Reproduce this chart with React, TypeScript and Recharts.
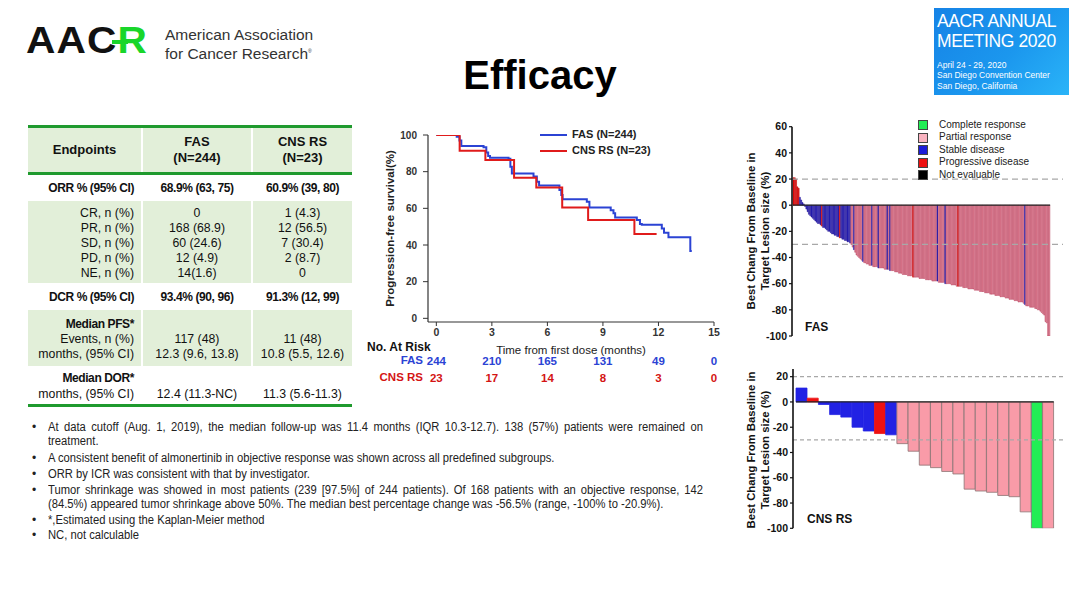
import React from 'react';
import { LineChart, Line, BarChart, Bar, Cell, XAxis, YAxis, ReferenceLine } from 'recharts';

const ARIAL = '"Liberation Sans", Arial, Helvetica, sans-serif';

// Kaplan-Meier PFS (months, % progression-free)
const fasTime = [0, 1.1, 1.25, 1.35, 2.55, 2.7, 2.8, 2.9, 3.9, 4.0, 4.08, 5.25, 5.43, 5.55, 6.65, 6.75, 6.82, 8.13, 8.27, 9.42, 9.57, 9.66, 10.83, 11.0, 11.1, 12.18, 12.3, 12.54, 13.72, 13.8];
const fasPfs = [100, 99, 97, 94, 93.3, 90.5, 88.5, 87.6, 87, 82.7, 79, 77.3, 74.5, 72.5, 70, 67.3, 65, 63.6, 60.5, 59, 57.3, 55, 53.6, 51.5, 51, 49, 46.7, 44.2, 36.7, 36.7];
const cnsTime = [0, 1.26, 2.65, 4.2, 5.4, 6.8, 8.2, 10.7, 11.9];
const cnsPfs = [100, 91.4, 86.4, 76.7, 71.3, 60.4, 53.6, 46, 46];
const monthTicks = [0, 3, 6, 9, 12, 15];
const fasAtRisk = [244, 210, 165, 131, 49, 0];
const cnsAtRisk = [23, 17, 14, 8, 3, 0];
const pfsTicks = [0, 20, 40, 60, 80, 100];

// waterfall: best % change from baseline, FAS
const fasChange = [
  21, 21, 20, 14, 13, 6, 4, 2, 1, -1,
  -3, -5, -7, -8, -9, -10, -11, -12, -13, -14,
  -14, -15, -16, -17, -17, -18, -19, -20, -20, -21,
  -22, -22, -23, -23, -24, -24, -25, -25, -26, -26,
  -27, -27, -28, -28, -29, -30, -32, -34, -36, -38,
  -39, -40, -41, -42, -43, -44, -44, -45, -45, -46,
  -46, -46, -47, -47, -47, -47, -48, -48, -48, -48,
  -48, -49, -49, -49, -49, -50, -50, -50, -50, -51,
  -51, -51, -52, -52, -52, -53, -53, -53, -53, -54,
  -54, -54, -54, -55, -55, -55, -55, -55, -56, -56,
  -56, -56, -56, -57, -57, -57, -57, -57, -58, -58,
  -58, -58, -58, -59, -59, -59, -59, -59, -60, -60,
  -60, -60, -60, -61, -61, -61, -61, -62, -62, -62,
  -62, -62, -63, -63, -63, -63, -64, -64, -64, -64,
  -64, -65, -65, -65, -65, -66, -66, -66, -66, -67,
  -67, -67, -67, -68, -68, -68, -68, -69, -69, -69,
  -69, -70, -70, -70, -70, -71, -71, -71, -72, -72,
  -72, -72, -73, -73, -73, -74, -74, -74, -74, -75,
  -76, -77, -77, -77, -78, -78, -78, -78, -79, -79,
  -80, -80, -81, -82, -83, -84, -89, -90, -100, -100,
];
// C complete, P partial, S stable, D progressive
const fasResponse = [
  'DDDDDSSSSS', 'SSSSSSSSSS', 'SSDSSSSSSS', 'SSSSSSDSSS', 'SSSSSPPSPP',
  'PPPPSPPPPP', 'PSPPPPSPPP', 'PPPSPSPPPP', 'PPPPPPPPPP', 'PPPDPPPPPP',
  'PPPPPPPPPP', 'PPSPPPPPSP', 'PPPPPPPPDP', 'PPPPPPPPPP', 'PPPPPPPPPP',
  'PPPPPPPPPP', 'PPPPPPPPPP', 'PPPPPPPPPP', 'SPPPPPPPPP', 'PPPPPPPPPP',
].join('');
const fasTail = ['t0', 't1', 't2', 't3', 't4', 't5', 't6', 't7', 't8', 't9'];

// waterfall, CNS RS
const cnsChange = [11, 3, -2, -10, -12, -20, -23, -25, -26, -33, -39, -50, -52, -55, -57, -69, -70.5, -71.5, -74, -75, -87, -100, -100];
const cnsResponse = 'SDSSSSSDSPPPPPPPPPPPPCP';

const fasTicks = [60, 40, 20, 0, -20, -40, -60, -80, -100];
const cnsTicks = [20, 0, -20, -40, -60, -80, -100];

const fasColors: Record<string, [string, string]> = {
  C: ['#22ee55', '#555'],
  P: ['#f6abba', '#b23552'],
  S: ['#2020c8', '#2a1890'],
  D: ['#e81010', '#c00000'],
};
const cnsColors: Record<string, [string, string]> = {
  C: ['#22ee55', '#777'],
  P: ['#f99ba8', '#8c7474'],
  S: ['#2222e4', '#2222e4'],
  D: ['#ee1111', '#ee1111'],
};

const fasBars = [
  ...fasChange.map((v, i) => ({ id: 'f' + i, v, r: fasResponse[i] })),
  ...fasTail.map((id) => ({ id, v: null as number | null, r: '' })),
];
const cnsBars = [
  ...cnsChange.map((v, i) => ({ id: 'c' + i, v, r: cnsResponse[i] })),
  { id: 'end', v: null as number | null, r: '' },
];

const Txt = ({ x, y, w, align = 'left', size = 12, bold = false, color = '#111', style = {}, children }: any) => (
  <div
    style={{
      position: 'absolute',
      left: x,
      top: y - size * 0.6,
      width: w,
      textAlign: align,
      fontSize: size,
      lineHeight: `${size * 1.2}px`,
      fontWeight: bold ? 700 : 400,
      color,
      fontFamily: ARIAL,
      whiteSpace: 'nowrap',
      ...style,
    }}
  >
    {children}
  </div>
);

const VText = ({ x, y, size, children }: any) => (
  <div
    style={{
      position: 'absolute',
      left: x,
      top: y,
      transform: 'translate(-50%, -50%) rotate(-90deg)',
      fontSize: size,
      fontWeight: 700,
      fontFamily: ARIAL,
      color: '#111',
      whiteSpace: 'nowrap',
      lineHeight: 1,
    }}
  >
    {children}
  </div>
);

const TABLE_BG = '#e2efd9';
const TABLE_LINE = '#1f9a2e';

const GreenBand = ({ top, height }: { top: number; height: number }) => (
  <>
    <div style={{ position: 'absolute', left: 28, top, width: 113, height, background: TABLE_BG }} />
    <div style={{ position: 'absolute', left: 143, top, width: 108, height, background: TABLE_BG }} />
    <div style={{ position: 'absolute', left: 253, top, width: 99, height, background: TABLE_BG }} />
  </>
);
const HLine = ({ top }: { top: number }) => (
  <div style={{ position: 'absolute', left: 28, top, width: 324, height: 3, background: TABLE_LINE }} />
);

const TRow = ({ y, label, a, b, bold = false }: any) => {
  const size = bold ? 12 : 12.3;
  const ls = bold ? -0.4 : 0;
  return (
    <>
      {label && <Txt x={28} w={106} y={y} align="right" size={size} bold={bold} style={{ letterSpacing: ls }}>{label}</Txt>}
      {a && <Txt x={143} w={108} y={y} align="center" size={size} bold={bold} style={{ letterSpacing: ls }}>{a}</Txt>}
      {b && <Txt x={253} w={99} y={y} align="center" size={size} bold={bold} style={{ letterSpacing: ls }}>{b}</Txt>}
    </>
  );
};

const EfficacyTable = () => (
  <>
    <GreenBand top={128} height={44} />
    <GreenBand top={201} height={82} />
    <GreenBand top={310} height={56} />
    <HLine top={125} />
    <HLine top={172} />
    <HLine top={404} />
    <Txt x={28} w={113} y={150} align="center" size={13} bold>Endpoints</Txt>
    <Txt x={143} w={108} y={142} align="center" size={13} bold>FAS</Txt>
    <Txt x={143} w={108} y={158} align="center" size={13} bold>(N=244)</Txt>
    <Txt x={253} w={99} y={142} align="center" size={13} bold>CNS RS</Txt>
    <Txt x={253} w={99} y={158} align="center" size={13} bold>(N=23)</Txt>
    <TRow y={188} label="ORR % (95% CI)" a="68.9% (63, 75)" b="60.9% (39, 80)" bold />
    <TRow y={213} label="CR, n (%)" a="0" b="1 (4.3)" />
    <TRow y={228} label="PR, n (%)" a="168 (68.9)" b="12 (56.5)" />
    <TRow y={243} label="SD, n (%)" a="60 (24.6)" b="7 (30.4)" />
    <TRow y={258} label="PD, n (%)" a="12 (4.9)" b="2 (8.7)" />
    <TRow y={273} label="NE, n (%)" a="14(1.6)" b="0" />
    <TRow y={297} label="DCR % (95% CI)" a="93.4% (90, 96)" b="91.3% (12, 99)" bold />
    <TRow y={324} label="Median PFS*" bold />
    <TRow y={339} label="Events, n (%)" a="117  (48)" b="11 (48)" />
    <TRow y={354} label="months, (95% CI)" a="12.3 (9.6, 13.8)" b="10.8 (5.5, 12.6)" />
    <TRow y={378} label="Median DOR*" bold />
    <TRow y={394} label="months, (95% CI)" a="12.4 (11.3-NC)" b="11.3 (5.6-11.3)" />
  </>
);

const fasKm = fasTime.map((t, i) => ({ t, s: fasPfs[i] }));
const cnsKm = cnsTime.map((t, i) => ({ t, s: cnsPfs[i] }));
const KM_BLUE = '#2b43d4';
const KM_RED = '#e01b1b';

// bottom axes are stacked in id order: a (time) next to the plot, then b (FAS at risk), then c (CNS RS at risk)
const PfsChart = () => (
  <div style={{ position: 'absolute', left: 360, top: 125 }}>
    <LineChart width={370} height={262} margin={{ top: 10, right: 16, bottom: 0, left: 0 }}>
      <XAxis
        xAxisId="a-time"
        type="number"
        dataKey="t"
        domain={[-0.45, 15]}
        allowDataOverflow
        ticks={monthTicks}
        height={32}
        tickSize={4}
        tickMargin={3}
        axisLine={{ stroke: '#333', strokeWidth: 1.2 }}
        tickLine={{ stroke: '#333' }}
        tick={{ fontSize: 10.5, fontWeight: 700, fill: '#333', fontFamily: ARIAL }}
        label={{ value: 'Time from first dose (months)', position: 'insideBottom', offset: 0, style: { fontSize: 11.5, fill: '#222', fontFamily: ARIAL } }}
      />
      <XAxis
        xAxisId="b-fas"
        type="number"
        dataKey="t"
        domain={[-0.45, 15]}
        allowDataOverflow
        ticks={monthTicks}
        height={17}
        tickSize={0}
        tickMargin={3}
        axisLine={false}
        tickLine={false}
        tickFormatter={(v: number) => String(fasAtRisk[monthTicks.indexOf(v)])}
        tick={{ fontSize: 11.5, fontWeight: 700, fill: KM_BLUE, fontFamily: ARIAL }}
      />
      <XAxis
        xAxisId="c-cns"
        type="number"
        dataKey="t"
        domain={[-0.45, 15]}
        allowDataOverflow
        ticks={monthTicks}
        height={16}
        tickSize={0}
        tickMargin={3}
        axisLine={false}
        tickLine={false}
        tickFormatter={(v: number) => String(cnsAtRisk[monthTicks.indexOf(v)])}
        tick={{ fontSize: 11.5, fontWeight: 700, fill: '#d41414', fontFamily: ARIAL }}
      />
      <YAxis
        type="number"
        domain={[-2, 100]}
        allowDataOverflow
        ticks={pfsTicks}
        width={68}
        tickSize={5}
        tickMargin={6}
        axisLine={{ stroke: '#333', strokeWidth: 1.2 }}
        tickLine={{ stroke: '#333' }}
        tick={{ fontSize: 10, fontWeight: 700, fill: '#333', fontFamily: ARIAL }}
        label={{ value: 'Progression-free survival(%)', angle: -90, position: 'insideLeft', offset: 30, style: { textAnchor: 'middle', fontSize: 11.5, fontWeight: 700, fill: '#222', fontFamily: ARIAL } }}
      />
      <Line xAxisId="a-time" data={fasKm} dataKey="s" type="stepAfter" stroke={KM_BLUE} strokeWidth={2} dot={false} isAnimationActive={false} />
      <Line xAxisId="a-time" data={cnsKm} dataKey="s" type="stepAfter" stroke={KM_RED} strokeWidth={2} dot={false} isAnimationActive={false} />
    </LineChart>
  </div>
);

const Waterfall = ({ data, colors, ticks, domain, tickFirst, tickLast, left, top, width, height, margin, padLeft, dash }: any) => (
  <div style={{ position: 'absolute', left, top }}>
    <BarChart width={width} height={height} data={data} margin={margin} barCategoryGap={0}>
      <XAxis dataKey="id" hide padding={{ left: padLeft, right: 0 }} />
      <YAxis
        type="number"
        domain={domain}
        allowDataOverflow
        ticks={ticks}
        interval={0}
        width={margin.yw}
        tickSize={3}
        tickMargin={2}
        axisLine={{ stroke: '#111', strokeWidth: 1.6 }}
        tickLine={{ stroke: '#111', strokeWidth: 1.2 }}
        tick={{ fontSize: 10.5, fontWeight: 700, fill: '#111', fontFamily: ARIAL }}
      />
      <ReferenceLine y={20} stroke="#a8a8a8" strokeWidth={1.2} strokeDasharray={dash} />
      <ReferenceLine y={-30} stroke="#a8a8a8" strokeWidth={1.2} strokeDasharray={dash} />
      <Bar dataKey="v" isAnimationActive={false}>
        {data.map((d: any) => (
          <Cell
            key={d.id}
            fill={d.r ? colors[d.r][0] : 'none'}
            stroke={d.r ? colors[d.r][1] : 'none'}
            strokeWidth={margin.sw}
          />
        ))}
      </Bar>
      <ReferenceLine
        segment={[{ x: tickFirst, y: 0 }, { x: tickLast, y: 0 }]}
        position="start"
        stroke="#222"
        strokeWidth={1.3}
      />
    </BarChart>
  </div>
);

const legendItems = [
  { label: 'Complete response', color: '#22ee55' },
  { label: 'Partial response', color: '#f9b3c0' },
  { label: 'Stable disease', color: '#1c1cd8' },
  { label: 'Progressive disease', color: '#ee1111' },
  { label: 'Not evaluable', color: '#000000' },
];

const bullets = [
  { y: 427, text: 'At data cutoff (Aug. 1, 2019), the median follow-up was 11.4 months (IQR 10.3-12.7). 138 (57%) patients were remained on', dot: true, full: true },
  { y: 441, text: 'treatment.' },
  { y: 458, text: 'A consistent benefit of almonertinib in objective response was shown across all predefined subgroups.', dot: true },
  { y: 474, text: 'ORR by ICR was consistent with that by investigator.', dot: true },
  { y: 490, text: 'Tumor shrinkage was showed in most patients (239 [97.5%] of 244 patients). Of 168 patients with an objective response, 142', dot: true, full: true },
  { y: 504, text: '(84.5%) appeared tumor shrinkage above 50%. The median best percentage change was -56.5% (range, -100% to -20.9%).' },
  { y: 520, text: '*,Estimated using the Kaplan-Meier method', dot: true },
  { y: 535, text: 'NC, not calculable', dot: true },
];
const NOTE_SQUEEZE = 0.935;

export default function App() {
  return (
    <div style={{ position: 'absolute', left: 0, top: 0, width: 1080, height: 607, background: '#fff', overflow: 'hidden', fontFamily: ARIAL }}>
      {/* AACR logo */}
      <div style={{ position: 'absolute', left: 26, top: 20, fontSize: 37, fontWeight: 900, lineHeight: '42px', letterSpacing: 1, transform: 'scaleX(1.1)', transformOrigin: 'left', fontFamily: ARIAL }}>
        <span style={{ color: '#111' }}>AAC</span>
        <span style={{ color: '#19d62a' }}>R</span>
      </div>
      <div style={{ position: 'absolute', left: 112, top: 40, width: 16, height: 4, background: '#19d62a' }} />
      <Txt x={165} y={35} size={15.5} color="#333">American Association</Txt>
      <Txt x={165} y={51} size={15.5} color="#333">for Cancer Research<sup style={{ fontSize: 5 }}>®</sup></Txt>

      {/* title */}
      <Txt x={340} w={400} y={75} align="center" size={40} bold color="#000">Efficacy</Txt>

      {/* meeting badge */}
      <div style={{ position: 'absolute', left: 934, top: 8, width: 135, height: 87, background: 'linear-gradient(135deg, #1683e6 0%, #1b97ee 55%, #2ab4f8 100%)' }} />
      <Txt x={937} y={21.5} size={17.5} color="#fff" style={{ letterSpacing: -0.4 }}>AACR ANNUAL</Txt>
      <Txt x={937} y={41.5} size={17.5} color="#fff" style={{ letterSpacing: -0.4 }}>MEETING 2020</Txt>
      <Txt x={937} y={65} size={8.5} color="#fff">April 24 - 29, 2020</Txt>
      <Txt x={937} y={75.5} size={8.5} color="#fff">San Diego Convention Center</Txt>
      <Txt x={937} y={86} size={8.5} color="#fff">San Diego, California</Txt>

      <EfficacyTable />

      {/* KM chart */}
      <PfsChart />
      <div style={{ position: 'absolute', left: 540, top: 134, width: 27, height: 2, background: KM_BLUE }} />
      <div style={{ position: 'absolute', left: 540, top: 150, width: 27, height: 2, background: KM_RED }} />
      <Txt x={572} y={135} size={11} bold color="#222">FAS (N=244)</Txt>
      <Txt x={572} y={151} size={11} bold color="#222">CNS RS (N=23)</Txt>
      <Txt x={367} y={347} size={12} bold color="#111">No. At Risk</Txt>
      <Txt x={360} w={63} y={361} align="right" size={11.5} bold color={KM_BLUE}>FAS</Txt>
      <Txt x={360} w={63} y={378} align="right" size={11.5} bold color="#d41414">CNS RS</Txt>

      {/* FAS waterfall */}
      <Waterfall
        data={fasBars}
        colors={fasColors}
        ticks={fasTicks}
        domain={[-100, 60]}
        tickFirst="f0"
        tickLast="t0"
        left={740}
        top={115}
        width={330}
        height={230}
        margin={{ top: 11.7, right: 7, bottom: 9, left: 0, yw: 52, sw: 0.5 }}
        padLeft={1}
        dash="6 4"
      />
      <VText x={752} y={231} size={11.3}>Best Chang From Baseline in</VText>
      <VText x={766} y={231} size={11.3}>Target Lesion size (%)</VText>
      <Txt x={805} y={327} size={12} bold>FAS</Txt>
      {legendItems.map((it, i) => (
        <React.Fragment key={it.label}>
          <div style={{ position: 'absolute', left: 918, top: 120 + i * 12.5, width: 8, height: 8, background: it.color, border: '0.5px solid #444' }} />
          <Txt x={939} y={124.5 + i * 12.5} size={10} color="#222">{it.label}</Txt>
        </React.Fragment>
      ))}

      {/* CNS RS waterfall */}
      <Waterfall
        data={cnsBars}
        colors={cnsColors}
        ticks={cnsTicks}
        domain={[-100, 26]}
        tickFirst="c0"
        tickLast="end"
        left={740}
        top={365}
        width={330}
        height={180}
        margin={{ top: 4.1, right: 5, bottom: 16.7, left: 0, yw: 53, sw: 0.8 }}
        padLeft={3}
        dash="4 3"
      />
      <VText x={752} y={450} size={11.3}>Best Chang From Baseline in</VText>
      <VText x={766} y={450} size={11.3}>Target Lesion size (%)</VText>
      <Txt x={807} y={519} size={12} bold>CNS RS</Txt>

      {/* notes */}
      {bullets.map((b) => (
        <React.Fragment key={b.y}>
          {b.dot && <Txt x={32} y={b.y} size={12} color="#222">•</Txt>}
          <Txt
            x={48}
            w={655 / NOTE_SQUEEZE}
            y={b.y}
            size={12}
            color="#222"
            style={{
              transform: `scaleX(${NOTE_SQUEEZE})`,
              transformOrigin: 'left',
              ...(b.full ? { textAlign: 'justify', textAlignLast: 'justify', whiteSpace: 'normal' } : {}),
            }}
          >
            {b.text}
          </Txt>
        </React.Fragment>
      ))}
    </div>
  );
}
